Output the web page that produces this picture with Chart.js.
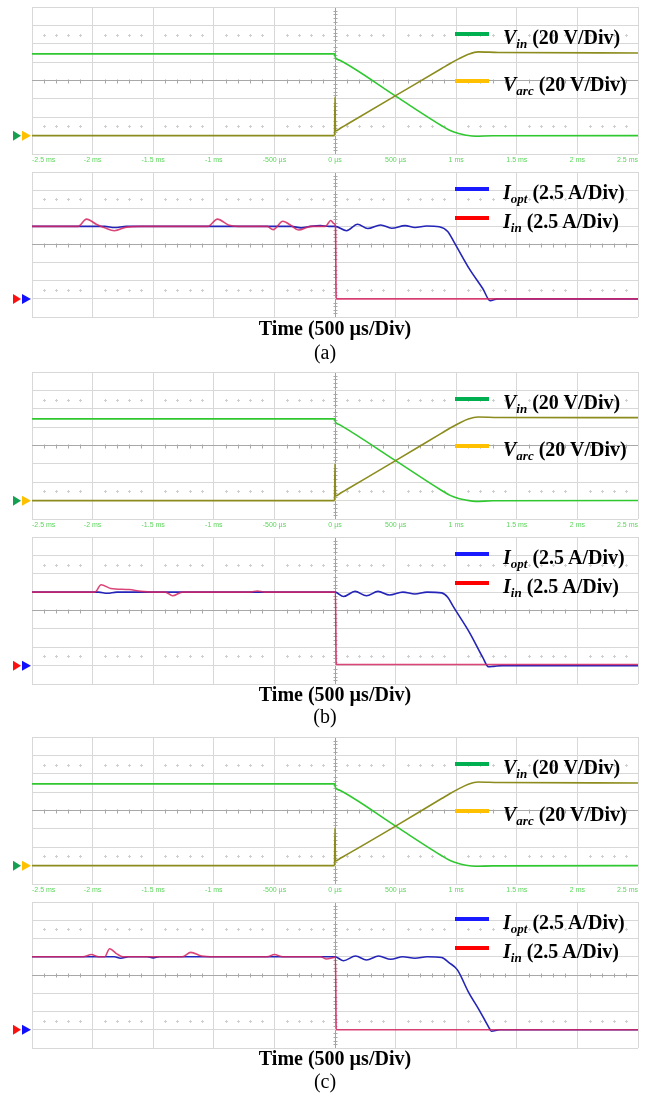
<!DOCTYPE html>
<html>
<head>
<meta charset="utf-8">
<script src="https://cdn.jsdelivr.net/npm/chart.js@4.4.1/dist/chart.umd.min.js"></script>
<style>
    body { margin: 0; width: 650px; height: 1096px; position: relative; background: #fff; overflow: hidden; }
    .box { position: absolute; left: 0; width: 650px; }
    .swatch { position: absolute; left: 455px; width: 34px; height: 4px; }
    .lbl { position: absolute; left: 503px; font: bold 20px "Liberation Serif", "Times New Roman", serif; line-height: 20px; white-space: nowrap; color: #000; }
    .lbl sub { font-size: 13px; font-style: italic; vertical-align: -4px; line-height: 0; }
    .time { position: absolute; left: 235px; width: 200px; text-align: center; font: bold 20px "Liberation Serif", serif; line-height: 20px; }
    .cap { position: absolute; left: 275px; width: 100px; text-align: center; font: 20px "Liberation Serif", serif; line-height: 20px; }
</style>
</head>
<body>
<script>
// x axis labels (scope time base, 500 us/div)
const tickLabels = ["-2.5 ms", "-2 ms", "-1.5 ms", "-1 ms", "-500 µs", "0 µs", "500 µs", "1 ms", "1.5 ms", "2 ms", "2.5 ms"];

// voltages (V), time in ms
const vinTimes = [-2.5, -0.004, 0.004, 0.04, 0.5, 0.88, 0.95, 1.02, 1.08, 1.16, 1.3, 2.5];
const vinA = [89, 89, 85, 82, 43, 10.8, 5.5, 2.2, 0.5, -0.7, -0.2, 0];
const vinB = [89, 89, 85.5, 82.5, 43.5, 11, 5.7, 2.3, 0.6, -0.8, -0.2, 0.1];
const vinC = [89, 89, 85, 82, 43, 10.8, 5.5, 2.2, 0.4, -0.7, -0.3, 0];

const varcTimes = [-2.5, -0.004, 0.0, 0.004, 0.05, 0.1, 0.5, 0.88, 0.95, 1.02, 1.1, 1.18, 1.35, 2.5];
const varcA = [0, 0, 42, 5, 8.5, 12.4, 43.5, 73, 78.5, 83.5, 88.5, 91.2, 90.5, 90];
const varcB = [0, 0, 40, 5, 8.5, 12.4, 43.5, 73.5, 79, 84, 88.8, 91, 90.5, 90.3];
const varcC = [0, 0, 41, 5, 8.5, 12.2, 43, 73, 78.5, 83.5, 88.5, 91, 90.5, 90];

// currents (A)
const ioptTimesA = [-2.5, -1.9, -1.82, -1.72, -0.36, -0.28, -0.2, -0.12, -0.05, 0, 0.096, 0.186, 0.27, 0.377, 0.468, 0.578, 0.66, 0.757, 0.86, 0.93, 0.98, 1.11, 1.22, 1.28, 1.34, 2.5];
const ioptA = [10, 10, 9.85, 10, 10, 9.8, 10, 10.1, 10, 10, 9.4, 10.3, 9.7, 10.2, 9.75, 10.1, 9.85, 10.05, 9.95, 9.3, 7.9, 4.1, 1.4, -0.25, 0, 0];
const iinTimesA = [-2.5, -2.12, -2.05, -1.97, -1.9, -1.82, -1.72, -1.6, -1.05, -0.97, -0.88, -0.8, -0.56, -0.51, -0.43, -0.36, -0.3, -0.2, -0.08, -0.035, -0.01, 0.004, 0.01, 2.5];
const iinA = [10, 10, 11, 10.3, 9.8, 9.4, 9.9, 10, 10, 11, 10.2, 10, 10, 9.55, 10.7, 10.1, 9.5, 10, 10, 10.8, 10.4, 10, 0, 0];

const ioptTimesB = [-2.5, -1.95, -1.88, -1.8, 0, 0.07, 0.165, 0.26, 0.355, 0.45, 0.56, 0.66, 0.76, 0.88, 0.93, 0.975, 1.11, 1.22, 1.265, 1.31, 1.38, 2.5];
const ioptB = [10, 10, 9.85, 10, 10, 9.4, 10.1, 9.5, 10.1, 9.6, 10, 9.75, 10, 9.9, 9.3, 8.05, 4.5, 1.1, -0.15, -0.1, 0, 0];
const iinTimesB = [-2.5, -1.98, -1.93, -1.85, -1.7, -1.6, -1.5, -1.4, -1.34, -1.26, -0.7, -0.64, -0.58, 0.004, 0.01, 2.5];
const iinB = [10, 10, 11, 10.5, 10.35, 10.1, 10, 10, 9.5, 10, 10, 10.15, 10, 10, 0.15, 0.15];

const ioptTimesC = [-2.5, -1.82, -1.77, -1.7, -1.55, -1.5, -1.45, 0, 0.07, 0.17, 0.26, 0.36, 0.46, 0.56, 0.66, 0.76, 0.88, 0.94, 1.01, 1.1, 1.19, 1.27, 1.29, 1.36, 2.5];
const ioptC = [10, 10, 9.8, 10, 10, 9.85, 10, 10, 9.45, 10.1, 9.55, 10.1, 9.65, 10, 9.8, 10, 9.9, 9.2, 8.2, 5.2, 2.7, 0.3, -0.2, 0, 0];
const iinTimesC = [-2.5, -2.08, -2.01, -1.95, -1.9, -1.86, -1.8, -1.75, -1.26, -1.19, -1.1, -1.0, -0.56, -0.5, -0.43, -0.12, -0.07, -0.01, 0.004, 0.01, 2.5];
const iinC = [10, 10, 10.3, 10, 10, 11.1, 10.4, 10, 10, 10.6, 10.1, 10, 10, 10.3, 10, 10, 9.7, 9.9, 10, 0, 0];

const pts = (ts, vs) => ts.map((t, i) => ({ x: t, y: vs[i] }));

// scope grid extras: minor ticks on centre lines, dotted rows, channel markers
const scopeDecor = {
    id: "scopeDecor",
    beforeDatasetsDraw(chart, args, o) {
        const { ctx, scales: { x, y } } = chart;
        const step = (y.max - y.min) / 8;
        const yc = Math.round(y.getPixelForValue((y.min + y.max) / 2)) + 0.5;
        const xc = Math.round(x.getPixelForValue(0)) + 0.5;
        const rows = [y.max - 1.5 * step, y.min + 1.5 * step].map(v => Math.round(y.getPixelForValue(v)) + 0.5);
        ctx.save();
        ctx.lineWidth = 1;
        ctx.strokeStyle = "#a8a8a8";
        ctx.beginPath();
        for (let k = -24; k <= 24; k++) {
            if (k % 5 === 0) continue;
            const px = Math.round(x.getPixelForValue(k / 10)) + 0.5;
            ctx.moveTo(px, yc - 2);
            ctx.lineTo(px, yc + 2);
        }
        for (let j = 1; j < 40; j++) {
            if (j % 5 === 0) continue;
            const py = Math.round(y.getPixelForValue(y.min + j * step / 5)) + 0.5;
            ctx.moveTo(xc - 2, py);
            ctx.lineTo(xc + 2, py);
        }
        ctx.stroke();
        ctx.strokeStyle = "#cfcfcf";
        ctx.beginPath();
        for (let k = -24; k <= 24; k++) {
            if (k % 5 === 0) continue;
            const px = Math.round(x.getPixelForValue(k / 10)) + 0.5;
            rows.forEach(r => {
                ctx.moveTo(px - 1.5, r);
                ctx.lineTo(px + 1.5, r);
                ctx.moveTo(px, r - 1.5);
                ctx.lineTo(px, r + 1.5);
            });
        }
        ctx.stroke();
        ctx.restore();
    },
    afterDraw(chart, args, o) {
        const { ctx, scales: { y } } = chart;
        const yz = y.getPixelForValue(0);
        ctx.save();
        [[13, 21], [22, 31]].forEach(([l, r], i) => {
            ctx.fillStyle = o.markers[i];
            ctx.beginPath();
            ctx.moveTo(l, yz - 5);
            ctx.lineTo(r, yz);
            ctx.lineTo(l, yz + 5);
            ctx.closePath();
            ctx.fill();
        });
        ctx.restore();
    }
};

function makeScope(top, bottom, withTicks, yMin, yMax, datasets, markers) {
    const pad = 8;
    const axisH = withTicks ? 14 : 2;
    const box = document.createElement("div");
    box.className = "box";
    box.style.top = (top - pad) + "px";
    box.style.height = (bottom - top + pad + axisH) + "px";
    const cv = document.createElement("canvas");
    box.appendChild(cv);
    document.body.appendChild(box);
    const mid = (yMin + yMax) / 2;
    new Chart(cv, {
        type: "line",
        data: { datasets },
        plugins: [scopeDecor],
        options: {
            responsive: true,
            maintainAspectRatio: false,
            animation: false,
            events: [],
            layout: { padding: { left: 32, right: 12, top: pad, bottom: 0 } },
            elements: { point: { radius: 0 }, line: { borderWidth: 1.6, cubicInterpolationMode: "monotone" } },
            plugins: { legend: { display: false }, tooltip: { enabled: false }, scopeDecor: { markers } },
            scales: {
                x: {
                    type: "linear",
                    min: -2.5,
                    max: 2.5,
                    afterFit: (s) => { s.height = axisH; },
                    border: { display: false },
                    grid: {
                        drawTicks: false,
                        color: (c) => (c.tick && Math.abs(c.tick.value) < 1e-9 ? "#a0a0a0" : "#d8d8d8"),
                    },
                    ticks: {
                        display: withTicks,
                        stepSize: 0.5,
                        autoSkip: false,
                        maxRotation: 0,
                        align: "inner",
                        padding: 2,
                        color: "#5cd65c",
                        font: { family: "Liberation Sans", size: 7 },
                        callback: (v, i) => tickLabels[i],
                    },
                },
                y: {
                    min: yMin,
                    max: yMax,
                    afterFit: (s) => { s.width = 0; },
                    border: { display: false },
                    grid: {
                        drawTicks: false,
                        color: (c) => (c.tick && Math.abs(c.tick.value - mid) < 1e-9 ? "#a8a8a8" : "#d8d8d8"),
                    },
                    ticks: { display: false, stepSize: (yMax - yMin) / 8 },
                },
            },
        },
    });
}

function addText(cls, top, html) {
    const d = document.createElement("div");
    d.className = cls;
    d.style.top = top + "px";
    d.innerHTML = html;
    document.body.appendChild(d);
}

function addLegend(y0, rows) {
    rows.forEach(([dy, color, html]) => {
        const s = document.createElement("div");
        s.className = "swatch";
        s.style.top = (y0 + dy - 2) + "px";
        s.style.background = color;
        document.body.appendChild(s);
        addText("lbl", y0 + dy - 7, html);
    });
}

const cases = [
    { vTop: 7, vBottom: 154, iTop: 172, iBottom: 317, timeY: 318, capY: 342, cap: "(a)",
      vin: vinA, varc: varcA, ioptT: ioptTimesA, iopt: ioptA, iinT: iinTimesA, iin: iinA },
    { vTop: 372, vBottom: 519, iTop: 537, iBottom: 684, timeY: 684, capY: 706, cap: "(b)",
      vin: vinB, varc: varcB, ioptT: ioptTimesB, iopt: ioptB, iinT: iinTimesB, iin: iinB },
    { vTop: 737, vBottom: 884, iTop: 902, iBottom: 1048, timeY: 1048, capY: 1071, cap: "(c)",
      vin: vinC, varc: varcC, ioptT: ioptTimesC, iopt: ioptC, iinT: iinTimesC, iin: iinC },
];

cases.forEach((c) => {
    makeScope(c.vTop, c.vBottom, true, -20, 140, [
        { label: "Varc", data: pts(varcTimes, c.varc), borderColor: "#8c8c1e" },
        { label: "Vin", data: pts(vinTimes, c.vin), borderColor: "#30c830" },
    ], ["#14a050", "#ffc000"]);
    // first dataset is drawn on top
    makeScope(c.iTop, c.iBottom, false, -2.5, 17.5, [
        { label: "Iin", data: pts(c.iinT, c.iin), borderColor: "rgba(214,36,96,0.85)" },
        { label: "Iopt", data: pts(c.ioptT, c.iopt), borderColor: "#2424b8" },
    ], ["#ff1010", "#1010ff"]);

    addLegend(c.vTop, [
        [27, "#00b050", "<i>V</i><sub>in</sub> (20 V/Div)"],
        [74, "#ffc000", "<i>V</i><sub>arc</sub> (20 V/Div)"],
    ]);
    addLegend(c.iTop, [
        [17, "#1a1aff", "<i>I</i><sub>opt</sub> (2.5 A/Div)"],
        [46, "#ff0000", "<i>I</i><sub>in</sub> (2.5 A/Div)"],
    ]);
    addText("time", c.timeY, "Time (500 µs/Div)");
    addText("cap", c.capY, c.cap);
});
</script>
</body>
</html>
